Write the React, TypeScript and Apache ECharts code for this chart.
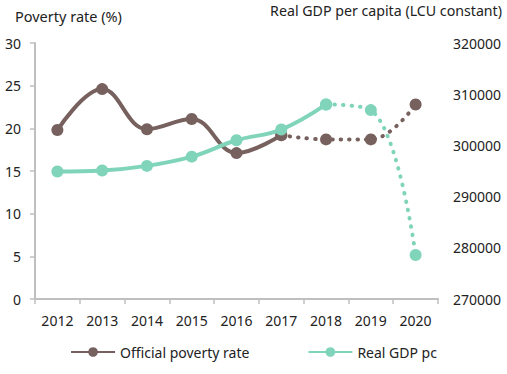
import React, { useEffect, useRef } from "react";
import * as echarts from "echarts";

const years = ["2012", "2013", "2014", "2015", "2016", "2017", "2018", "2019", "2020"];
const povertyRate = [19.8, 24.6, 19.9, 21.1, 17.1, 19.2, 18.7, 18.7, 22.8];
const realGdpPc = [294900, 295100, 296000, 297800, 301000, 303100, 308000, 306900, 278600];
const povertySolidEnd = 5; // index of 2017
const gdpSolidEnd = 6; // index of 2018

const leftTitle = "Poverty rate (%)";
const rightTitle = "Real GDP per capita (LCU constant)";
const povertyName = "Official poverty rate";
const gdpName = "Real GDP pc";

const BROWN = "#77615E";
const TEAL = "#7FD4B9";
const FONT = "Noto Sans";

function split(values: number[], end: number) {
  const solid = values.map((v, i) => (i <= end ? v : null));
  const dotted = values.map((v, i) => (i >= end ? v : null));
  return { solid, dotted };
}

export default function App() {
  const ref = useRef<HTMLDivElement>(null);
  useEffect(() => {
    if (!ref.current) return;
    const chart = echarts.init(ref.current, null, { renderer: "svg" });
    const pov = split(povertyRate, povertySolidEnd);
    const gdp = split(realGdpPc, gdpSolidEnd);
    const dotStyle = (color: string) => ({
      color,
      width: 4,
      type: [0.5, 8] as any,
      cap: "round" as const,
    });
    chart.setOption({
      animation: false,
      textStyle: { fontFamily: FONT },
      grid: { left: 35, right: 69, top: 43, bottom: 75 },
      graphic: [
        {
          type: "text",
          left: 15,
          top: 8,
          style: { text: leftTitle, fontSize: 14.5, fontFamily: FONT, fill: "#222" },
        },
        {
          type: "text",
          right: 5,
          top: 3,
          style: { text: rightTitle, fontSize: 14.2, fontFamily: FONT, fill: "#222" },
        },
      ],
      legend: {
        bottom: 10,
        left: "center",
        itemWidth: 44,
        itemHeight: 12,
        itemGap: 58,
        data: [povertyName, gdpName],
        textStyle: { fontSize: 14, fontFamily: FONT, color: "#222" },
      },
      xAxis: {
        type: "category",
        data: years,
        boundaryGap: true,
        axisLine: { lineStyle: { color: "#BFBFBF", width: 2 } },
        axisTick: { show: true, length: 5, lineStyle: { color: "#BFBFBF", width: 1.5 } },
        axisLabel: { margin: 14, fontSize: 14, color: "#222", fontFamily: FONT },
      },
      yAxis: [
        {
          type: "value",
          min: 0,
          max: 30,
          interval: 5,
          axisLine: { show: true, lineStyle: { color: "#BFBFBF", width: 2 } },
          axisTick: { show: true, length: 5, lineStyle: { color: "#BFBFBF", width: 1.5 } },
          splitLine: { show: false },
          axisLabel: { margin: 14, fontSize: 14, color: "#222", fontFamily: FONT },
        },
        {
          type: "value",
          min: 270000,
          max: 320000,
          interval: 10000,
          axisLine: { show: false },
          axisTick: { show: false },
          splitLine: { show: false },
          axisLabel: {
            margin: 15,
            fontSize: 14,
            color: "#222",
            fontFamily: FONT,
            formatter: (v: number) => String(v),
          },
        },
      ],
      series: [
        {
          name: povertyName,
          type: "line",
          yAxisIndex: 0,
          data: pov.solid,
          smooth: 0.4,
          symbol: "circle",
          symbolSize: 12,
          itemStyle: { color: BROWN },
          lineStyle: { color: BROWN, width: 4 },
          z: 3,
        },
        {
          name: povertyName + " (dotted)",
          type: "line",
          yAxisIndex: 0,
          data: pov.dotted,
          smooth: 0.4,
          symbol: "circle",
          symbolSize: 12,
          itemStyle: { color: BROWN },
          lineStyle: dotStyle(BROWN),
          z: 3,
        },
        {
          name: gdpName,
          type: "line",
          yAxisIndex: 1,
          data: gdp.solid,
          smooth: 0.4,
          symbol: "circle",
          symbolSize: 12,
          itemStyle: { color: TEAL },
          lineStyle: { color: TEAL, width: 4 },
          z: 4,
        },
        {
          name: gdpName + " (dotted)",
          type: "line",
          yAxisIndex: 1,
          data: gdp.dotted,
          smooth: 0.4,
          symbol: "circle",
          symbolSize: 12,
          itemStyle: { color: TEAL },
          lineStyle: dotStyle(TEAL),
          z: 4,
        },
      ],
    });
    return () => chart.dispose();
  }, []);
  return <div ref={ref} style={{ width: 507, height: 374, position: "absolute", left: 0, top: 0 }} />;
}
